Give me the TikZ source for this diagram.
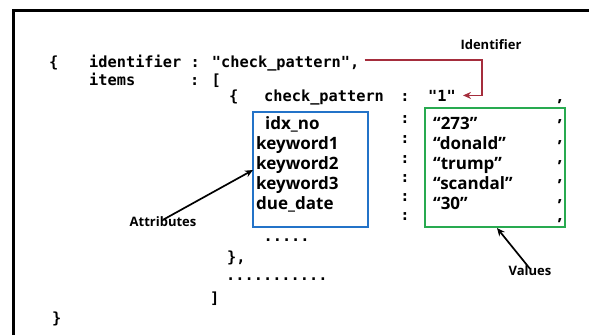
\documentclass[tikz,border=0pt]{standalone}
\usepackage{fontspec}
\setmainfont{Open Sans}
\newfontfamily\codefont{DejaVu Sans Mono}
\usetikzlibrary{arrows.meta}
\definecolor{idred}{RGB}{165,45,60}
\definecolor{attrblue}{RGB}{35,115,200}
\definecolor{valgreen}{RGB}{40,170,80}
\begin{document}
\begin{tikzpicture}[x=1pt,y=-1pt,
  code/.style={inner sep=0pt,anchor=base west,font=\codefont\bfseries\fontsize{15.3}{18}\selectfont},
  txt/.style={inner sep=0pt,anchor=base west,font=\bfseries\fontsize{17}{20}\selectfont},
  sep/.style={inner sep=0pt,font=\bfseries\fontsize{17}{20}\selectfont},
  lbl/.style={inner sep=0pt,font=\bfseries\fontsize{13}{15}\selectfont},
  pointer/.style={line width=1.7pt,-{Stealth[length=8pt,width=7pt]}}]
\useasboundingbox (0,0) rectangle (589,335);
% frame
\draw[line width=3pt] (13,335)--(13,10)--(589,10);
% code lines
\node[code] (open) at (49,67) {\{};
\node[code] (idline) at (89,67) {identifier : "check\_pattern",};
\node[code] (items) at (89,85) {items};
\node[code] (itemsval) at (190,85) {: [};
\node[code] (itemopen) at (229,101) {\{};
\node[code] (checkp) at (264,101) {check\_pattern};
\node[code] (one) at (428,101) {"1"};
\foreach \y [count=\i] in {98,120,140,160,179,198,217}
  \node[code,anchor=center] (colon\i) at (405,\y) {:};
\foreach \y [count=\i] in {102,122,143,163,182,202,221}
  \node[sep] (comma\i) at (560,\y) {,};
% attributes
\node[txt] (idx) at (265,129) {idx\_no};
\node[txt] (kw1) at (256,149) {keyword1};
\node[txt] (kw2) at (256,169) {keyword2};
\node[txt] (kw3) at (256,189) {keyword3};
\node[txt] (due) at (256,209) {due\_date};
% values
\node[txt] (v1) at (433,129) {“273”};
\node[txt] (v2) at (433,149) {“donald”};
\node[txt] (v3) at (433,169) {“trump”};
\node[txt] (v4) at (433,189) {“scandal”};
\node[txt] (v5) at (433,209) {“30”};
% boxes
\draw[attrblue,line width=2pt] (253,112) rectangle (368,227);
\draw[valgreen,line width=2pt] (425,108) rectangle (565,227);
\coordinate (attrbox) at (253,170);
\coordinate (valbox) at (497,228);
% closing lines
\node[code,anchor=west] (dots1) at (263.4,240) {.....};
\node[code] (itemclose) at (227,262) {\},};
\node[code,anchor=west] (dots2) at (226,279) {...........};
\node[code] (listclose) at (210,303) {]};
\node[code] (close) at (52,323) {\}};
% labels and pointers
\node[lbl] (idlbl) at (491,45) {Identifier};
\node[lbl] (attrlbl) at (163,222) {Attributes};
\node[lbl] (vallbl) at (530,271) {Values};
\coordinate (bend) at (482,60);
\draw[idred,pointer] (idline.east |- bend)++(5,0) -- (bend) |- ([xshift=7pt]one.east);
\draw[pointer] ([yshift=-3pt]attrlbl.north) -- (attrbox);
\draw[pointer] ([yshift=-3pt]vallbl.north) -- (valbox);
\end{tikzpicture}
\end{document}
